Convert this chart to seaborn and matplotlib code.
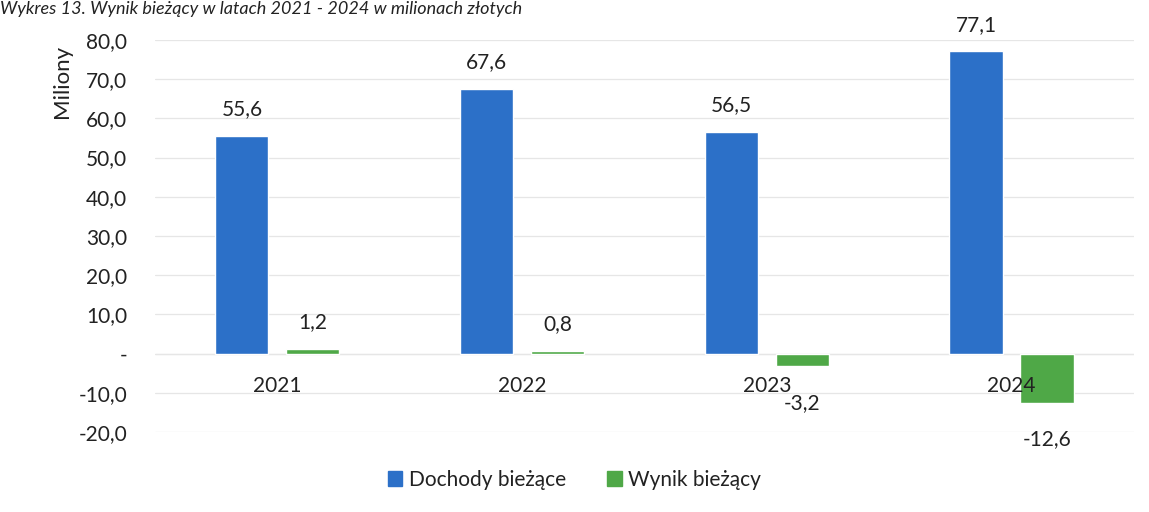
import matplotlib
matplotlib.use("Agg")
import matplotlib.pyplot as plt
import matplotlib.ticker as mticker
import matplotlib.transforms as mtransforms
import seaborn as sns
import pandas as pd

years = ["2021", "2022", "2023", "2024"]
dochody = [55.6, 67.6, 56.5, 77.1]
wynik = [1.2, 0.8, -3.2, -12.6]
series_names = ["Dochody bieżące", "Wynik bieżący"]
y_ticks = [80, 70, 60, 50, 40, 30, 20, 10, 0, -10, -20]

title = "Wykres 13. Wynik bieżący w latach 2021 - 2024 w milionach złotych"
y_label = "Miliony"

df = pd.DataFrame({
    "rok": years * 2,
    "seria": [series_names[0]] * len(years) + [series_names[1]] * len(years),
    "wartosc": dochody + wynik,
})

sns.set_theme(style="white")
plt.rcParams["font.family"] = ["Lato", "DejaVu Sans"]

blue = "#2C70C8"
green = "#4FA847"
text_col = "#222222"
fs = 15

fig = plt.figure(figsize=(11.49, 5.12), dpi=100)
ax = fig.add_axes([0.1349, 0.156, 0.852, 0.766])

sns.barplot(data=df, x="rok", y="wartosc", hue="seria", order=years,
            hue_order=series_names, palette=[blue, green], width=0.58,
            gap=0.25, saturation=1, ax=ax, legend=False, errorbar=None)

ax.set_ylim(-20, 80)
ax.set_xlim(-0.5, len(years) - 0.5)
ax.set_yticks(y_ticks)
ax.yaxis.set_major_formatter(mticker.FuncFormatter(
    lambda v, _: "-" if abs(v) < 1e-9 else f"{v:.1f}".replace(".", ",")))
ax.tick_params(axis="y", length=0, labelsize=fs, labelcolor=text_col, pad=20)
ax.grid(axis="y", color="#E6E6E6", linewidth=0.9)
ax.set_axisbelow(True)
for s in ["top", "right", "left", "bottom"]:
    ax.spines[s].set_visible(False)
ax.axhline(0, color="#E6E6E6", linewidth=0.9, zorder=0.5)
ax.set_xticks(range(len(years)))
ax.set_xticklabels([])
ax.tick_params(axis="x", length=0)
ax.set_xlabel("")
ax.set_ylabel("")

# category labels sit just under the zero line, drawn above the bars
lab_tr = ax.transData + mtransforms.ScaledTranslation(0, -23 / 72, fig.dpi_scale_trans)
for i, yr in enumerate(years):
    ax.text(i, 0, yr, transform=lab_tr, ha="center", va="center",
            fontsize=fs, color=text_col, zorder=5)


def fmt(v):
    return f"{v:.1f}".replace(".", ",")


# value labels: above positive bars, further below negative ones
for cont in ax.containers:
    vals = [b.get_height() for b in cont]
    ax.bar_label(cont, labels=[fmt(v) if v >= 0 else "" for v in vals],
                 padding=12, fontsize=fs, color=text_col)
    if any(v < 0 for v in vals):
        ax.bar_label(cont, labels=[fmt(v) if v < 0 else "" for v in vals],
                     padding=19, fontsize=fs, color=text_col)

fig.text(0.054, 0.84, y_label, rotation=90, ha="center", va="center",
         fontsize=16, color=text_col)
fig.text(0.0, 0.998, title, ha="left", va="top", fontsize=13,
         style="italic", color=text_col)

handles = [plt.Rectangle((0, 0), 1, 1, color=c) for c in (blue, green)]
fig.legend(handles, series_names, loc="center", bbox_to_anchor=(0.5, 1 - 480 / 512),
           ncol=2, frameon=False, fontsize=fs, handlelength=0.7, handleheight=0.7,
           handletextpad=0.3, columnspacing=2.0, labelcolor=text_col)

fig.savefig("out.png", dpi=100, facecolor="white")
